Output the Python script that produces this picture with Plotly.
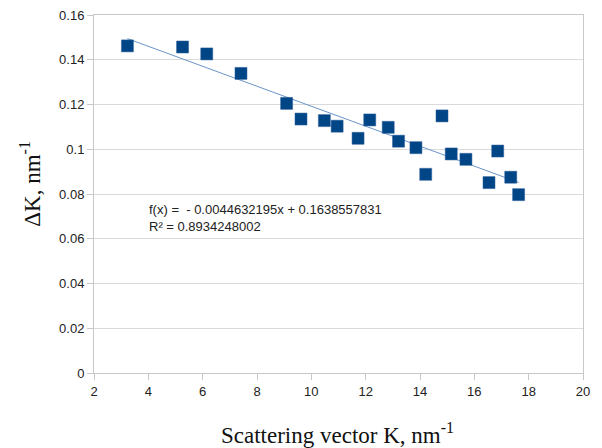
import numpy as np
import plotly.graph_objects as go

# Data
k_values = [3.23, 5.26, 6.15, 7.41, 9.09, 9.62, 10.48, 10.95, 11.72, 12.15, 12.83,
            13.21, 13.85, 14.21, 14.81, 15.15, 15.69, 16.54, 16.86, 17.34, 17.63]
dk_values = [0.1462, 0.1457, 0.1426, 0.1339, 0.1205, 0.1135, 0.1128, 0.1103, 0.1049,
             0.1131, 0.1098, 0.1036, 0.1007, 0.0888, 0.1149, 0.0979, 0.0955, 0.0851,
             0.0992, 0.0875, 0.0797]

SLOPE = -0.0044632195
INTERCEPT = 0.1638557831
R2 = 0.8934248002

x_ticks = [2, 4, 6, 8, 10, 12, 14, 16, 18, 20]
y_ticks = [0, 0.02, 0.04, 0.06, 0.08, 0.1, 0.12, 0.14, 0.16]
y_tick_labels = ["0", "0.02", "0.04", "0.06", "0.08", "0.1", "0.12", "0.14", "0.16"]

trend_x = np.array([min(k_values), max(k_values)])
trend_y = SLOPE * trend_x + INTERCEPT

fig = go.Figure()
fig.add_trace(go.Scatter(
    x=trend_x, y=trend_y, mode="lines",
    line=dict(color="#6a94c8", width=1), hoverinfo="skip", showlegend=False))
fig.add_trace(go.Scatter(
    x=k_values, y=dk_values, mode="markers",
    marker=dict(symbol="square", size=12, color="#004586",
                line=dict(width=0.5, color="#2a5f9a")),
    showlegend=False))

fig.add_annotation(
    xref="paper", yref="paper", x=0.109, y=0.433, xanchor="left", yanchor="middle",
    text="f(x) =  - 0.0044632195x + 0.1638557831<br>R² = 0.8934248002",
    showarrow=False, align="left",
    font=dict(family="Liberation Sans, Arial, sans-serif", size=13, color="#222"))

axis_font = dict(family="Liberation Sans, Arial, sans-serif", size=13, color="#222")
title_font = dict(family="Liberation Serif, Times New Roman, serif", size=23, color="#111")

# Axis titles
fig.add_annotation(
    xref="paper", yref="paper", x=0.497, y=-0.168, xanchor="center", yanchor="middle",
    text="Scattering vector K, nm<sup>-1</sup>", showarrow=False, font=title_font)
fig.add_annotation(
    xref="paper", yref="paper", x=-0.130, y=0.53, xanchor="center", yanchor="middle",
    text="ΔK, nm<sup>-1</sup>", textangle=-90, showarrow=False, font=title_font)

fig.update_layout(
    width=602, height=448,
    margin=dict(l=94, r=19, t=15, b=75),
    paper_bgcolor="white", plot_bgcolor="white",
    xaxis=dict(
        range=[2, 20], tickvals=x_ticks, ticktext=[str(v) for v in x_ticks],
        showgrid=False, zeroline=False, automargin=False,
        showline=True, linecolor="#c8c8c8", linewidth=1, mirror=True,
        ticks="outside", ticklen=6, tickcolor="#c8c8c8",
        tickfont=axis_font,
    ),
    yaxis=dict(
        range=[0, 0.16], tickvals=y_ticks, ticktext=y_tick_labels,
        showgrid=True, gridcolor="#dadada", gridwidth=1, zeroline=False, automargin=False,
        showline=True, linecolor="#c8c8c8", linewidth=1, mirror=True,
        ticks="outside", ticklen=6, tickcolor="#c8c8c8",
        tickfont=axis_font,
    ),
)

fig.write_html("out.html")
